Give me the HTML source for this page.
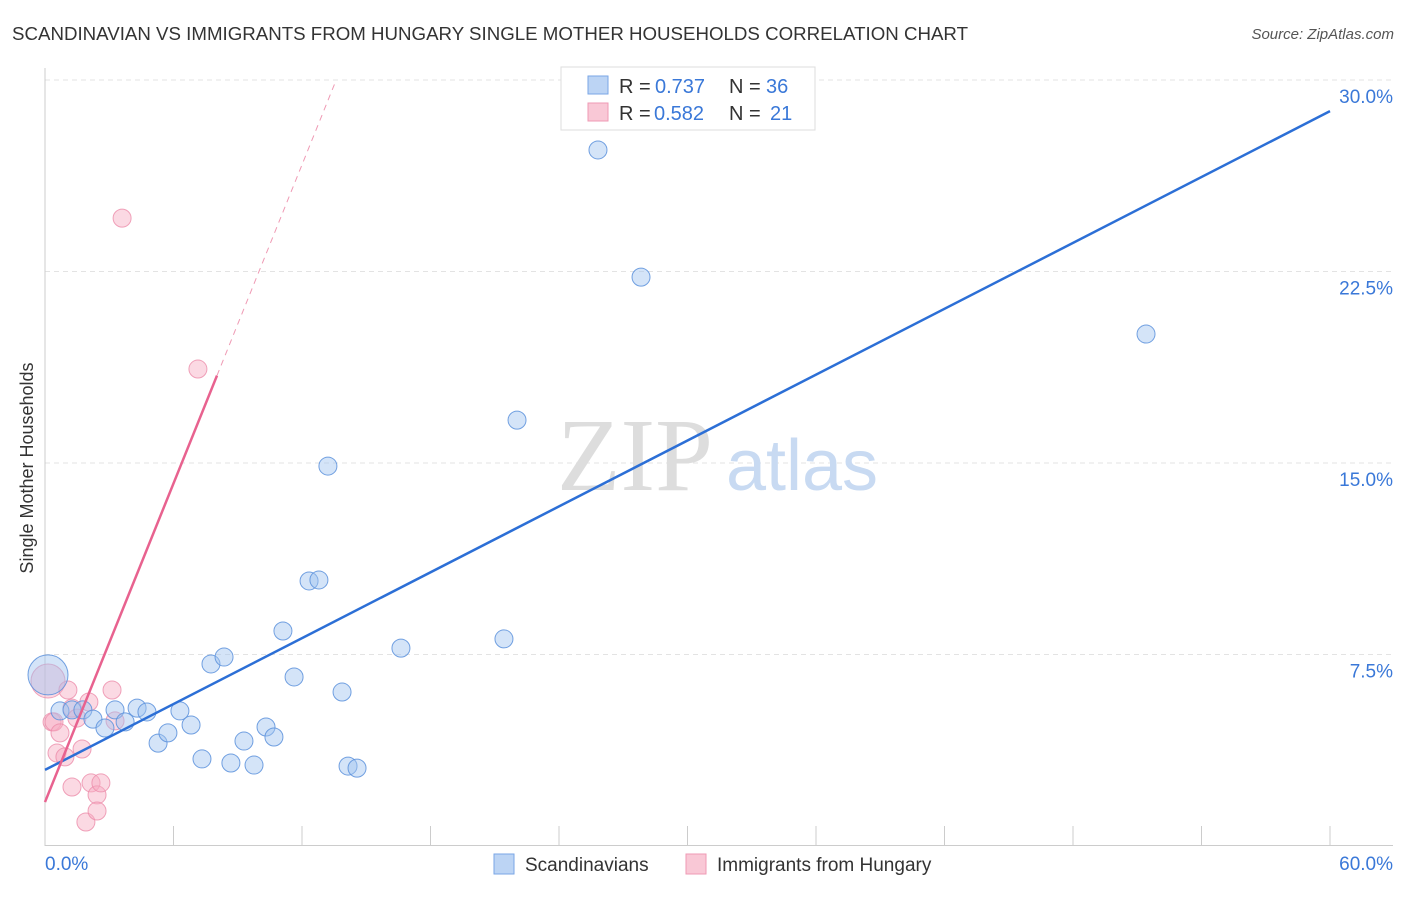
<!DOCTYPE html>
<html><head><meta charset="utf-8"><style>
body{margin:0;background:#fff;font-family:"Liberation Sans",sans-serif}
</style></head><body>
<svg width="1406" height="892" xmlns="http://www.w3.org/2000/svg">
<text x="12" y="40" font-size="18" fill="#333" textLength="956" lengthAdjust="spacingAndGlyphs">SCANDINAVIAN VS IMMIGRANTS FROM HUNGARY SINGLE MOTHER HOUSEHOLDS CORRELATION CHART</text>
<text x="1394" y="39" font-size="15" fill="#555" text-anchor="end" font-style="italic">Source: ZipAtlas.com</text>
<g id="grid"></g>
<text x="635" y="490" font-size="104" fill="#ddd" text-anchor="middle" font-family="Liberation Serif,serif">ZIP</text>
<text x="802" y="490" font-size="72" fill="#c8daf2" text-anchor="middle">atlas</text>
<line x1="45" y1="68" x2="45" y2="846" stroke="#ccc"/>
<line x1="45" y1="845.5" x2="1393" y2="845.5" stroke="#ccc"/>
<g id="marks"></g>
<text x="21" y="456" font-size="18" fill="#333" text-anchor="middle" transform="rotate(-90 33 456)">Single Mother Households</text>
<text x="45" y="870" font-size="19" fill="#3a78d8">0.0%</text>
<text x="1393" y="870" font-size="19" fill="#3a78d8" text-anchor="end">60.0%</text>
<g>
<rect x="561" y="67" width="254" height="63" fill="#fff" stroke="#ddd"/>
<rect x="588" y="76" width="20" height="18" fill="#bcd4f4" stroke="#7aa6e6"/>
<rect x="588" y="103" width="20" height="18" fill="#f9c8d6" stroke="#ef9ab4"/>
<text x="619" y="93" font-size="20" fill="#333">R = <tspan x="655" fill="#3a78d8">0.737</tspan><tspan x="729">N = </tspan><tspan x="766" fill="#3a78d8">36</tspan></text>
<text x="619" y="120" font-size="20" fill="#333">R = <tspan x="654" fill="#3a78d8">0.582</tspan><tspan x="729">N = </tspan><tspan x="770" fill="#3a78d8">21</tspan></text>
</g>
<g>
<rect x="494" y="854" width="20" height="20" fill="#bcd4f4" stroke="#7aa6e6"/>
<text x="525" y="871" font-size="19" fill="#333">Scandinavians</text>
<rect x="686" y="854" width="20" height="20" fill="#f9c8d6" stroke="#ef9ab4"/>
<text x="717" y="871" font-size="19" fill="#333">Immigrants from Hungary</text>
</g>
</svg>
<script>
const yTicks=[7.5,15,22.5,30];
const yTickLabels=["7.5%","15.0%","22.5%","30.0%"];
const xTicks=[0,6,12,18,24,30,36,42,48,54,60];
const blueX=[0.14,0.70,1.26,1.77,2.24,2.80,3.27,3.74,4.30,4.76,5.28,5.74,6.30,6.82,7.33,7.75,8.36,8.68,9.29,9.76,10.32,10.69,11.11,11.63,12.33,12.79,13.21,13.87,14.15,14.57,16.62,21.43,22.04,25.82,27.83,51.41];
const blueY=[6.70,5.29,5.33,5.33,4.97,4.62,5.33,4.86,5.40,5.25,4.03,4.43,5.29,4.74,3.41,7.13,7.40,3.25,4.11,3.17,4.66,4.27,8.42,6.62,10.38,10.42,14.88,6.03,3.13,3.05,7.75,8.11,16.68,27.26,22.28,20.05];
const pinkX=[0.14,0.33,0.42,0.56,0.70,0.93,1.07,1.26,1.26,1.49,1.73,1.91,2.05,2.15,2.43,2.43,2.61,3.13,3.27,3.60,7.14];
const pinkY=[6.46,4.86,4.86,3.64,4.43,3.49,6.11,2.31,5.40,5.01,3.80,0.94,5.64,2.47,2.00,1.37,2.47,6.11,4.90,24.59,18.68];
const blueLine=[2.98,28.78];
const pinkLine=[1.72,2.08];
const NS="http://www.w3.org/2000/svg";
const X=v=>45+v/60*1285, Y=v=>846-v/7.5*191.5;
function mk(t,a,p){const e=document.createElementNS(NS,t);for(const k in a)e.setAttribute(k,a[k]);p.appendChild(e);return e;}
const grid=document.getElementById('grid'),marks=document.getElementById('marks');
yTicks.forEach((t,i)=>{
const l=mk('line',{x1:45,x2:1393,y1:Y(t),y2:Y(t),stroke:'#e3e3e3','stroke-dasharray':'5,4'},grid);


const tx=mk('text',{x:1393,y:Y(t)+23,'font-size':19,fill:'#3a78d8','text-anchor':'end'},grid);
tx.textContent=yTickLabels[i];


});
xTicks.forEach(t=>{
const l=mk('line',{x1:X(t),x2:X(t),y1:826,y2:845,stroke:'#ccc'},grid);


});
pinkX.forEach((v,i)=>{
const c=mk('circle',{cx:X(v),cy:Y(pinkY[i]),r:i==0?17:9,fill:'rgba(246,170,194,0.45)',stroke:'rgba(236,140,170,0.8)','stroke-width':1},marks);


});
blueX.forEach((v,i)=>{
const c=mk('circle',{cx:X(v),cy:Y(blueY[i]),r:i==0?20:9,fill:'rgba(160,196,240,0.45)',stroke:'rgba(90,145,220,0.85)','stroke-width':1},marks);


});
const bl=mk('line',{x1:X(0),y1:Y(blueLine[0]),x2:X(60),y2:Y(blueLine[1]),stroke:'#2c6fd6','stroke-width':2.5},marks);


const xe=(30-pinkLine[0])/pinkLine[1];
const pd=mk('line',{x1:X(8.03),y1:Y(pinkLine[0]+pinkLine[1]*8.03),x2:X(xe),y2:Y(30),stroke:'#ef9ab4','stroke-width':1,'stroke-dasharray':'6,5'},marks);


const pl=mk('line',{x1:X(0),y1:Y(pinkLine[0]),x2:X(8.03),y2:Y(pinkLine[0]+pinkLine[1]*8.03),stroke:'#e8628f','stroke-width':2.5},marks);


</script>
</body></html>
